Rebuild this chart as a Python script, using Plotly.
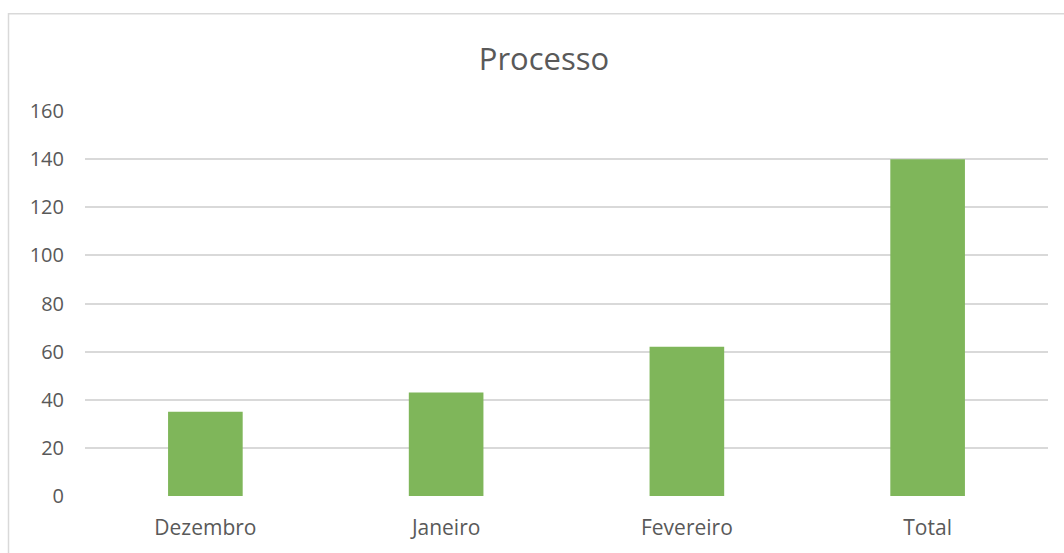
import plotly.graph_objects as go

categories = ["Dezembro", "Janeiro", "Fevereiro", "Total"]
values = [35, 43, 62, 140]
y_ticks = [0, 20, 40, 60, 80, 100, 120, 140, 160]

W, H = 1064, 553
L, R, T, B = 85, 16, 111, 54
pw, ph = W - L - R, H - T - B

fig = go.Figure(go.Bar(
    x=categories, y=values,
    marker=dict(color="#7fb65a", line=dict(width=0)),
    width=0.31,
))

def px_x(p):
    return (p - L) / pw

def px_y(p):
    return (H - B - p) / ph

fig.update_layout(
    width=W, height=H,
    margin=dict(l=L, r=R, t=T, b=B),
    paper_bgcolor="white", plot_bgcolor="white",
    font=dict(family="Open Sans", color="#595959", size=20),
    title=dict(text="Processo", x=544 / W, xanchor="center",
               y=1 - 59 / H, yanchor="middle",
               font=dict(size=31, color="#595959", family="Open Sans")),
    showlegend=False,
    xaxis=dict(showgrid=False, showline=False, ticks="", ticklabelstandoff=17,
               tickfont=dict(size=21, color="#595959")),
    yaxis=dict(range=[0, 160], tickvals=y_ticks, showgrid=True, gridcolor="#d9d9d9",
               gridwidth=1.5, zeroline=False, showline=False, ticks="",
               ticklabelstandoff=20, tickfont=dict(size=20, color="#595959")),
    shapes=[dict(type="rect", xref="paper", yref="paper",
                 x0=px_x(8.5), x1=px_x(1080), y0=px_y(580), y1=px_y(13),
                 line=dict(color="#d9d9d9", width=1.5), fillcolor="rgba(0,0,0,0)", layer="below")],
)

fig.write_html("out.html", config={"displayModeBar": False},
               post_script="document.body.style.margin='0';document.body.style.overflow='hidden';")
